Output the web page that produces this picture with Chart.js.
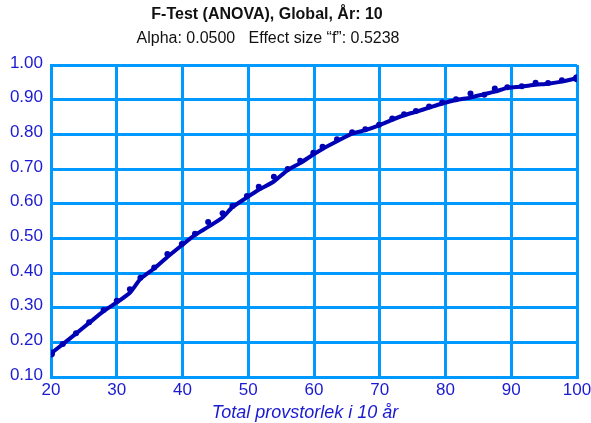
<!DOCTYPE html>
<html>
<head>
<meta charset="utf-8">
<title>F-Test (ANOVA)</title>
<script src="https://cdn.jsdelivr.net/npm/chart.js@4.4.1/dist/chart.umd.min.js"></script>
<style>
    html, body { margin: 0; padding: 0; background: #fff; }
    #wrap { width: 591px; height: 423px; }
</style>
</head>
<body>
<div id="wrap"><canvas id="powerChart" width="591" height="423"></canvas></div>
<script>
// Total sample size at each computed step
const sampleSizes = [20, 21.8, 23.8, 25.8, 28, 30, 32, 33.6, 35.7, 37.7, 39.9, 41.9, 43.9, 46.1, 47.6,
    49.8, 51.6, 53.9, 56, 57.9, 59.9, 61.3, 63.5, 65.8, 67.8, 69.9, 71.9, 73.7, 75.5, 77.5, 79.5,
    81.6, 83.8, 85.9, 87.5, 89.4, 91.6, 93.7, 95.6, 97.7, 100];

// Power computed at each sample size (markers)
const powerPoints = [0.168, 0.195, 0.226, 0.258, 0.293, 0.320, 0.353, 0.386, 0.416, 0.455, 0.484,
    0.513, 0.547, 0.572, 0.593, 0.622, 0.649, 0.678, 0.700, 0.724, 0.747, 0.764, 0.786, 0.806,
    0.815, 0.828, 0.846, 0.858, 0.867, 0.880, 0.892, 0.901, 0.918, 0.914, 0.932, 0.936, 0.939,
    0.949, 0.948, 0.956, 0.962];

// Smoothed power curve
const powerCurve = [0.168, 0.195, 0.225, 0.256, 0.290, 0.315, 0.343, 0.383, 0.413, 0.446, 0.480,
    0.510, 0.533, 0.560, 0.590, 0.618, 0.640, 0.664, 0.697, 0.717, 0.742, 0.758, 0.780, 0.802,
    0.812, 0.826, 0.842, 0.855, 0.865, 0.877, 0.889, 0.899, 0.906, 0.916, 0.923, 0.934, 0.938,
    0.943, 0.946, 0.952, 0.962];

const xTicks = { min: 20, max: 100, step: 10 };
const yTicks = { min: 0.1, max: 1.0, step: 0.1 };

const chartTitle = 'F-Test (ANOVA), Global, År: 10';
const chartSubtitle = 'Alpha: 0.0500   Effect size \u201Cf\u201D: 0.5238';
const xAxisTitle = 'Total provstorlek i 10 år';

const GRID_BLUE = '#0099ff';
const LINE_BLUE = '#0000b4';
const TEXT_BLUE = '#1a1ad2';
const FONT = '"Liberation Sans", Arial, Helvetica, sans-serif';

// header and axis caption drawn straight onto the canvas
const captionPlugin = {
    id: 'captions',
    afterDraw(chart) {
        const ctx = chart.ctx;
        ctx.save();
        ctx.textAlign = 'center';
        ctx.textBaseline = 'alphabetic';
        ctx.fillStyle = '#111';
        ctx.font = 'bold 16px ' + FONT;
        ctx.fillText(chartTitle, 267, 19);
        ctx.font = '16px ' + FONT;
        ctx.fillText(chartSubtitle, 268, 43);
        ctx.fillStyle = TEXT_BLUE;
        ctx.font = 'italic 18px ' + FONT;
        ctx.fillText(xAxisTitle, 305, 418);
        ctx.restore();
    }
};

const curveData = sampleSizes.map((x, i) => ({ x: x, y: powerCurve[i] }));
const pointData = sampleSizes.map((x, i) => ({ x: x, y: powerPoints[i] }));

const ctx = document.getElementById('powerChart').getContext('2d');
new Chart(ctx, {
    type: 'line',
    data: {
        datasets: [
            {
                label: 'Power curve',
                data: curveData,
                borderColor: LINE_BLUE,
                borderWidth: 4,
                pointRadius: 0,
                tension: 0.2,
                fill: false
            },
            {
                label: 'Power',
                data: pointData,
                showLine: false,
                backgroundColor: LINE_BLUE,
                borderColor: LINE_BLUE,
                borderWidth: 0,
                pointRadius: c => (c.dataIndex === 0 || c.dataIndex === pointData.length - 1) ? 4 : 3
            }
        ]
    },
    options: {
        responsive: false,
        animation: false,
        layout: { padding: { top: 65, right: 14, bottom: 0, left: 0 } },
        plugins: {
            legend: { display: false },
            tooltip: { enabled: false }
        },
        scales: {
            x: {
                type: 'linear',
                min: xTicks.min,
                max: xTicks.max,
                ticks: {
                    stepSize: xTicks.step,
                    color: TEXT_BLUE,
                    font: { family: FONT, size: 17 },
                    padding: 3,
                    maxRotation: 0
                },
                grid: { color: GRID_BLUE, lineWidth: 3, drawTicks: false },
                border: { color: GRID_BLUE, width: 3 },
                afterFit(scale) {
                    scale.height = 46;
                    scale.paddingLeft = 0;
                    scale.paddingRight = 0;
                }
            },
            y: {
                min: yTicks.min,
                max: yTicks.max,
                ticks: {
                    stepSize: yTicks.step,
                    color: TEXT_BLUE,
                    font: { family: FONT, size: 17 },
                    padding: 8,
                    labelOffset: -2,
                    callback: v => Number(v).toFixed(2)
                },
                grid: { color: GRID_BLUE, lineWidth: 3, drawTicks: false },
                border: { color: GRID_BLUE, width: 3 },
                afterFit(scale) {
                    scale.width = 51;
                    scale.paddingTop = 0;
                    scale.paddingBottom = 0;
                }
            }
        }
    },
    plugins: [captionPlugin]
});
</script>
</body>
</html>
